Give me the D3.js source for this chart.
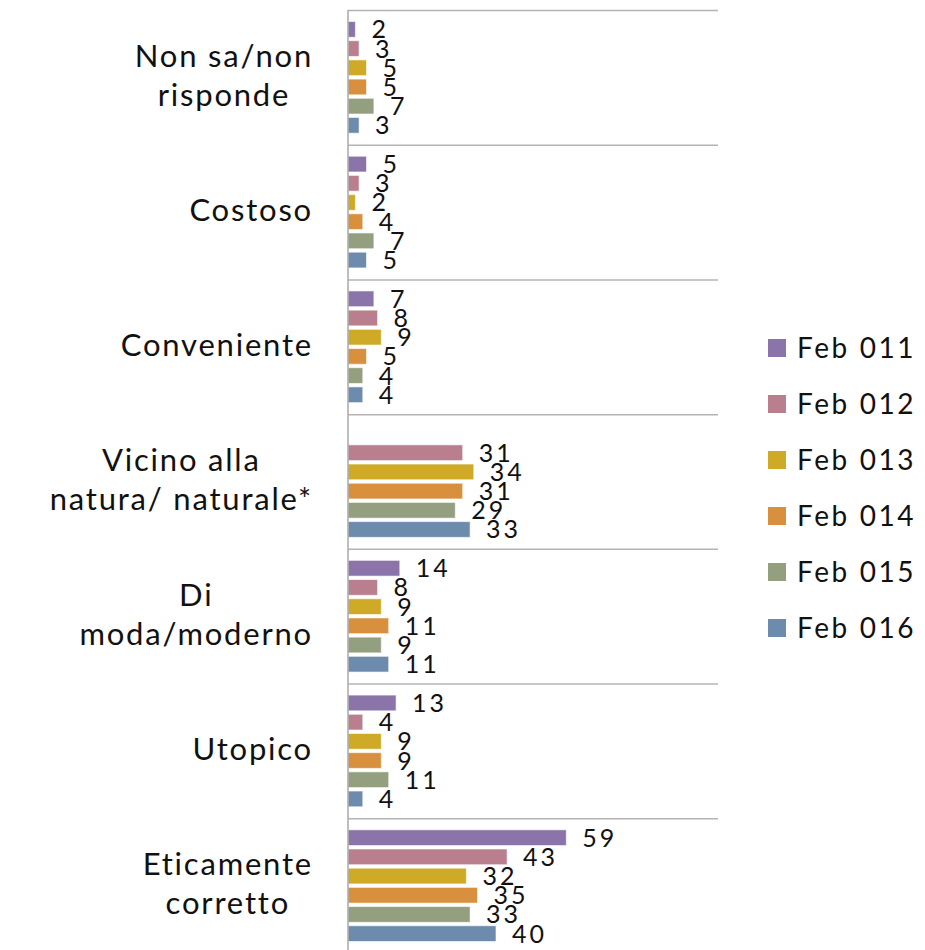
<!DOCTYPE html>
<meta charset="utf-8">
<script src="https://d3js.org/d3.v7.min.js"></script>
<style>
  body { margin: 0; background: #fff; }
  text { font-family: Lato, "Open Sans", sans-serif; fill: #111; }
</style>
<div id="chart"></div>
<script>

// categories, top to bottom (each entry is the wrapped lines of the label)
const categories = [
    ["Non sa/non", "risponde"],
    ["Costoso"],
    ["Conveniente"],
    ["Vicino alla", "natura/ naturale*"],
    ["Di", "moda/moderno"],
    ["Utopico"],
    ["Eticamente", "corretto"]
];
const series = ["Feb 011", "Feb 012", "Feb 013", "Feb 014", "Feb 015", "Feb 016"];
const colors = ["#8a74aa", "#b97f8f", "#ceaa26", "#d9903e", "#939f7e", "#6d8bac"];

// values per series, in category order (null = no value)
const feb011 = [2, 5, 7, null, 14, 13, 59];
const feb012 = [3, 3, 8, 31, 8, 4, 43];
const feb013 = [5, 2, 9, 34, 9, 9, 32];
const feb014 = [5, 4, 5, 31, 11, 9, 35];
const feb015 = [7, 7, 4, 29, 9, 11, 33];
const feb016 = [3, 5, 4, 33, 11, 4, 40];
const values = [feb011, feb012, feb013, feb014, feb015, feb016];

const width = 925, height = 950;
const plot = {left: 348, right: 718, top: 10, bottom: 953};

const svg = d3.select("#chart")
    .append("svg")
    .attr("width", width)
    .attr("height", height);

const catIdx = d3.range(categories.length);

const x = d3.scaleLinear()
    .domain([0, 100])
    .range([plot.left, plot.right]);

const y = d3.scaleBand()
    .domain(catIdx)
    .range([plot.top, plot.bottom]);

const ySub = d3.scaleBand()
    .domain(d3.range(series.length))
    .range([0, y.bandwidth()])
    .paddingInner(0.18)
    .paddingOuter(0.6);

// separator lines between categories
svg.append("g")
    .selectAll("line")
    .data(catIdx)
    .join("line")
    .attr("x1", plot.left)
    .attr("x2", plot.right)
    .attr("y1", d => y(d) + 0.5)
    .attr("y2", d => y(d) + 0.5)
    .attr("stroke", "#b4b4b4")
    .attr("stroke-width", 1.5);

// bars
const groups = svg.append("g")
    .selectAll("g")
    .data(catIdx)
    .join("g")
    .attr("transform", d => `translate(0,${y(d)})`);

const cells = groups.selectAll("g")
    .data(c => series.map((s, i) => ({s: i, v: values[i][c]})).filter(d => d.v != null))
    .join("g");

cells.append("rect")
    .attr("x", x(0))
    .attr("y", d => ySub(d.s))
    .attr("width", d => x(d.v) - x(0))
    .attr("height", ySub.bandwidth())
    .attr("fill", d => colors[d.s])
    .attr("stroke", "rgba(255,255,255,0.6)")
    .attr("stroke-width", 1);

cells.append("text")
    .attr("x", d => x(d.v) + 16)
    .attr("y", d => ySub(d.s) + ySub.bandwidth() / 2)
    .attr("dy", "0.36em")
    .style("font-size", "25px")
    .style("letter-spacing", "3px")
    .text(d => d.v);

// vertical axis line
svg.append("line")
    .attr("x1", plot.left)
    .attr("x2", plot.left)
    .attr("y1", plot.top)
    .attr("y2", plot.bottom)
    .attr("stroke", "#a8a8a8")
    .attr("stroke-width", 1.5);

// category labels: lines centred within a block right-aligned at x=312
const lineH = 39;
const labels = svg.append("g")
    .selectAll("text")
    .data(catIdx)
    .join("text")
    .style("font-size", "31px")
    .style("letter-spacing", "1.8px")
    .attr("text-anchor", "middle");

labels.each(function(c) {
    const t = d3.select(this);
    const lines = categories[c];
    const spans = lines.map((l, i) => t.append("tspan").text(l));
    const maxW = d3.max(spans, s => s.node().getComputedTextLength());
    const cx = 313 - maxW / 2;
    const cy = y(c) + y.bandwidth() / 2 - 2;
    spans.forEach((s, i) => {
        s.attr("x", cx)
         .attr("y", cy + (i - (lines.length - 1) / 2) * lineH)
         .attr("dy", "0.36em");
    });
});

// legend
const legend = svg.append("g")
    .selectAll("g")
    .data(series)
    .join("g")
    .attr("transform", (d, i) => `translate(768,${348 + i * 56})`);

legend.append("rect")
    .attr("x", 0)
    .attr("y", -9)
    .attr("width", 18)
    .attr("height", 18)
    .attr("fill", (d, i) => colors[i]);

legend.append("text")
    .attr("x", 29)
    .attr("y", 0)
    .attr("dy", "0.36em")
    .style("font-size", "28px")
    .style("letter-spacing", "2.6px")
    .text(d => d);

</script>
